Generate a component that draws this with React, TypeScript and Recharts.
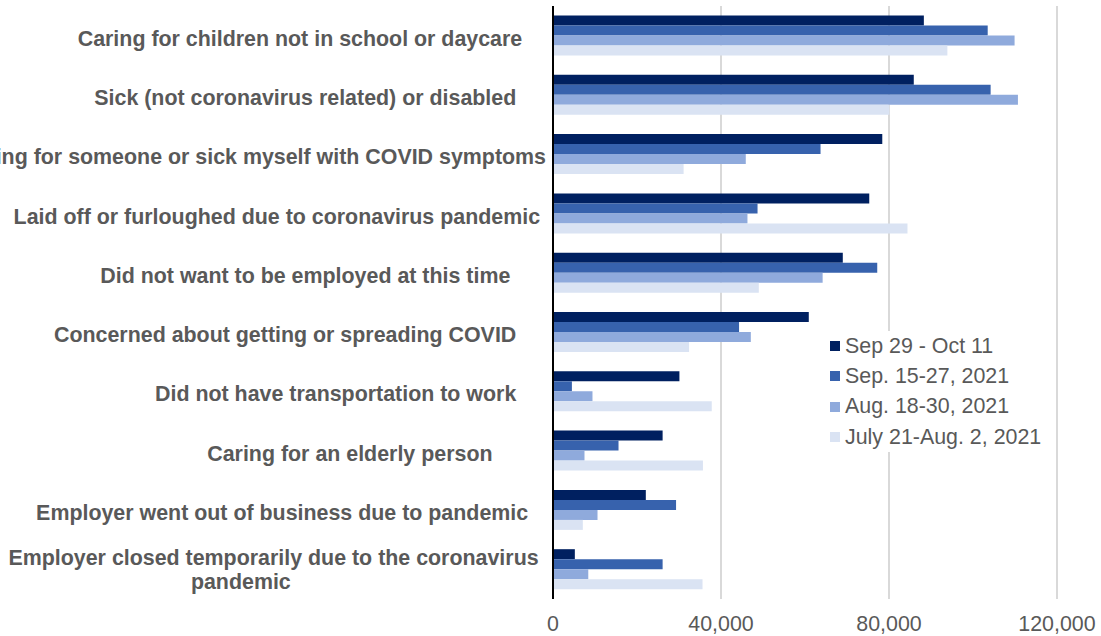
import { BarChart, Bar, XAxis, YAxis, CartesianGrid, Legend } from 'recharts';

// category labels keep the trailing spaces they have in the source sheet
const categories = [
    'Caring for children not in school or daycare    ',
    'Sick (not coronavirus related) or disabled     ',
    'Caring for someone or sick myself with COVID symptoms',
    'Laid off or furloughed due to coronavirus pandemic ',
    'Did not want to be employed at this time      ',
    'Concerned about getting or spreading COVID     ',
    'Did not have transportation to work     ',
    'Caring for an elderly person         ',
    'Employer went out of business due to pandemic   ',
    'Employer closed temporarily due to the coronavirus \npandemic            ',
];

const sepOct11 = [88300, 85900, 78400, 75300, 69000, 60900, 30100, 26100, 22100, 5200];
const sep15to27 = [103500, 104200, 63700, 48700, 77200, 44300, 4500, 15600, 29300, 26100];
const aug18to30 = [109900, 110700, 45900, 46300, 64200, 47100, 9400, 7500, 10600, 8400];
const jul21toAug2 = [93900, 80100, 31100, 84400, 49000, 32400, 37800, 35700, 7100, 35600];

const xTicks = [0, 40000, 80000, 120000];

const series = [
    { key: 'sepOct11', name: 'Sep 29 - Oct 11', color: '#002060' },
    { key: 'sep15to27', name: 'Sep. 15-27, 2021', color: '#3762AD' },
    { key: 'aug18to30', name: 'Aug. 18-30, 2021', color: '#8FAADC' },
    { key: 'jul21toAug2', name: 'July 21-Aug. 2, 2021', color: '#DAE3F3' },
];

const data = categories.map((name, i) => ({
    name,
    sepOct11: sepOct11[i],
    sep15to27: sep15to27[i],
    aug18to30: aug18to30[i],
    jul21toAug2: jul21toAug2[i],
}));

const FONT = '"Liberation Sans", Arial, sans-serif';
const TEXT = '#595959';
const FONT_SIZE = 21.4;
const LABEL_BOX = 539;

const CategoryTick = ({ x, y, payload }: any) => {
    const lines = String(payload.value).split('\n');
    const lineH = 24;
    const common = {
        fill: TEXT,
        fontSize: FONT_SIZE,
        fontWeight: 700,
        fontFamily: FONT,
        style: { whiteSpace: 'pre' as const },
    };
    if (lines.length === 1) {
        return (
            <text x={x} y={y} dy={10} textAnchor='end' {...common}>
                {lines[0]}
            </text>
        );
    }
    const cx = x - LABEL_BOX / 2;
    const top = y - ((lines.length - 1) * lineH) / 2;
    return (
        <text textAnchor='middle' {...common}>
            {lines.map((line, i) => (
                <tspan key={i} x={cx} y={top + i * lineH} dy={8}>
                    {line}
                </tspan>
            ))}
        </text>
    );
};

const LegendBox = () => (
    <div style={{ background: '#fff', fontFamily: FONT, fontSize: FONT_SIZE, color: TEXT, paddingLeft: 8 }}>
        {series.map((s) => (
            <div key={s.key} style={{ display: 'flex', alignItems: 'center', height: 30.3, whiteSpace: 'nowrap' }}>
                <span style={{ width: 10, height: 10, background: s.color, marginRight: 5, display: 'inline-block' }} />
                {s.name}
            </div>
        ))}
    </div>
);

const App = () => {
    return (
        <div style={{ position: 'absolute', left: 0, top: 0 }}>
            <BarChart
                width={1101}
                height={636}
                data={data}
                layout='vertical'
                margin={{ top: 6, right: 44, bottom: 0, left: 0 }}
                barCategoryGap='16%'
                barGap={0}
            >
                <CartesianGrid horizontal={false} stroke='#d9d9d9' strokeWidth={2} />
                <XAxis
                    type='number'
                    domain={[0, 120000]}
                    ticks={xTicks}
                    tickFormatter={(v: number) => v.toLocaleString('en-US')}
                    axisLine={false}
                    tickLine={false}
                    tickSize={6}
                    tickMargin={11}
                    height={37}
                    tick={{ fill: TEXT, fontSize: FONT_SIZE, fontFamily: FONT }}
                />
                <YAxis
                    type='category'
                    dataKey='name'
                    width={553}
                    axisLine={{ stroke: '#000', strokeWidth: 2 }}
                    tickLine={false}
                    tickSize={0}
                    tickMargin={7}
                    interval={0}
                    tick={<CategoryTick />}
                />
                <Legend
                    layout='vertical'
                    align='center'
                    verticalAlign='middle'
                    wrapperStyle={{ left: 822, top: 331, width: 232 }}
                    content={() => <LegendBox />}
                />
                {series.map((s) => (
                    <Bar key={s.key} dataKey={s.key} name={s.name} fill={s.color} isAnimationActive={false} />
                ))}
            </BarChart>
        </div>
    );
};

export default App;
